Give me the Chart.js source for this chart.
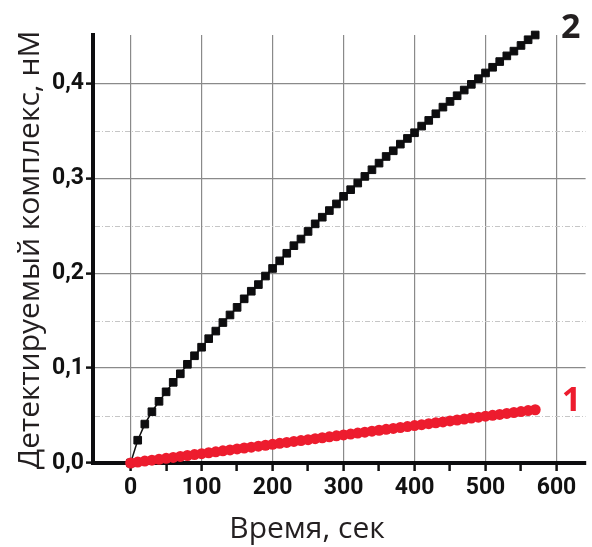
<!DOCTYPE html>
<html>
<head>
<meta charset="utf-8">
<script src="https://cdn.jsdelivr.net/npm/chart.js@4/dist/chart.umd.min.js"></script>
<style>
  html, body { margin: 0; padding: 0; background: #fff; }
  #wrap { width: 592px; height: 547px; }
</style>
</head>
<body>
<div id="wrap"><canvas id="kinetics-chart"></canvas></div>
<script>
// time points, sec
const times = [
  0, 10, 20, 30, 40, 50, 60, 70, 80, 90,
  100, 110, 120, 130, 140, 150, 160, 170, 180, 190,
  200, 210, 220, 230, 240, 250, 260, 270, 280, 290,
  300, 310, 320, 330, 340, 350, 360, 370, 380, 390,
  400, 410, 420, 430, 440, 450, 460, 470, 480, 490,
  500, 510, 520, 530, 540, 550, 560, 570
];

// curve 2 (black squares), nM
const curve2 = [
  0.000, 0.024, 0.041, 0.054, 0.065, 0.075, 0.085, 0.094, 0.104, 0.113,
  0.122, 0.131, 0.139, 0.148, 0.156, 0.164, 0.173, 0.181, 0.188, 0.197,
  0.205, 0.213, 0.221, 0.229, 0.236, 0.244, 0.252, 0.259, 0.266, 0.273,
  0.281, 0.288, 0.295, 0.302, 0.309, 0.316, 0.323, 0.329, 0.336, 0.342,
  0.348, 0.355, 0.361, 0.368, 0.375, 0.381, 0.387, 0.393, 0.399, 0.405,
  0.411, 0.417, 0.423, 0.429, 0.434, 0.440, 0.446, 0.451
];

// curve 1 (red circles), nM
const curve1 = [
  0.0000, 0.0010, 0.0020, 0.0030, 0.0039, 0.0049, 0.0059, 0.0069, 0.0079, 0.0089,
  0.0098, 0.0108, 0.0118, 0.0128, 0.0138, 0.0148, 0.0158, 0.0167, 0.0177, 0.0187,
  0.0197, 0.0207, 0.0217, 0.0227, 0.0236, 0.0246, 0.0256, 0.0266, 0.0276, 0.0286,
  0.0296, 0.0305, 0.0315, 0.0325, 0.0335, 0.0345, 0.0355, 0.0364, 0.0374, 0.0384,
  0.0394, 0.0404, 0.0414, 0.0424, 0.0433, 0.0443, 0.0453, 0.0463, 0.0473, 0.0483,
  0.0493, 0.0502, 0.0512, 0.0522, 0.0532, 0.0542, 0.0552, 0.0561
];

const curveNames = ["1", "2"];
const xTitle = "Время, сек";
const yTitle = "Детектируемый комплекс, нМ";
const xTickValues = [0, 50, 100, 150, 200, 250, 300, 350, 400, 450, 500, 550, 600];
const yTickValues = [0, 0.1, 0.2, 0.3, 0.4];
const minorY = [0.05, 0.15, 0.25, 0.35];

const tickFont = { family: "'Liberation Sans Narrow', Roboto, sans-serif", size: 23, weight: "bold" };
const red = "rgb(237, 28, 46)";

function toPoints(ys) {
  return times.map((t, i) => ({ x: t, y: ys[i] }));
}

// dashed minor lines, axis titles and the curve numbers
const decor = {
  id: "decor",
  beforeDatasetsDraw(chart) {
    const { ctx, chartArea, scales } = chart;
    ctx.save();
    ctx.strokeStyle = "#c6c6c6";
    ctx.lineWidth = 1;
    ctx.setLineDash([5, 2, 1, 2]);
    minorY.forEach((v) => {
      const py = Math.round(scales.y.getPixelForValue(v)) + 0.5;
      ctx.beginPath();
      ctx.moveTo(chartArea.left + 2, py);
      ctx.lineTo(chartArea.right, py);
      ctx.stroke();
    });
    ctx.restore();
  },
  afterDraw(chart) {
    const { ctx, scales } = chart;
    ctx.save();
    ctx.fillStyle = "#231f20";
    ctx.font = "30px 'Open Sans', 'Noto Sans', sans-serif";
    ctx.textAlign = "center";
    ctx.textBaseline = "alphabetic";
    ctx.fillText(xTitle, 307, 538);

    ctx.translate(30, 250);
    ctx.rotate(-Math.PI / 2);
    ctx.textBaseline = "middle";
    ctx.fillText(yTitle, 0, 0);
    ctx.restore();

    ctx.save();
    ctx.font = "bold 34px 'Open Sans', 'Noto Sans', sans-serif";
    ctx.textAlign = "center";
    ctx.textBaseline = "middle";
    ctx.fillStyle = red;
    ctx.fillText(curveNames[0], scales.x.getPixelForValue(621), scales.y.getPixelForValue(0.0645));
    ctx.fillStyle = "#231f20";
    ctx.fillText(curveNames[1], scales.x.getPixelForValue(620), scales.y.getPixelForValue(0.458));
    ctx.restore();
  }
};

new Chart(document.querySelector("#kinetics-chart").getContext("2d"), {
  type: "scatter",
  data: {
    datasets: [
      {
        label: curveNames[0],
        data: toPoints(curve1),
        showLine: true,
        borderColor: red,
        borderWidth: 2,
        backgroundColor: red,
        pointStyle: "circle",
        pointRadius: 5.5,
        pointBorderWidth: 0,
      },
      {
        label: curveNames[1],
        data: toPoints(curve2),
        showLine: true,
        borderColor: "#111",
        borderWidth: 1.5,
        backgroundColor: "#0d0d0f",
        pointStyle: "rect",
        pointRadius: 5.4,
        pointBorderWidth: 1,
        pointBorderColor: "#0d0d0f",
      },
    ],
  },
  options: {
    responsive: true,
    maintainAspectRatio: false,
    animation: false,
    clip: false,
    layout: { padding: { top: 35, right: -7, left: 0, bottom: 0 } },
    plugins: { legend: { display: false }, tooltip: { enabled: false } },
    scales: {
      x: {
        type: "linear",
        min: -53,
        max: 641,
        afterBuildTicks(scale) {
          scale.ticks = xTickValues.map((v) => ({ value: v }));
        },
        afterFit(scale) { scale.height = 84; },
        ticks: {
          autoSkip: false,
          color: "#111",
          font: tickFont,
          padding: 3,
          maxRotation: 0,
          callback: (v) => (v % 100 === 0 ? String(v) : ""),
        },
        grid: {
          color: (c) => (c.tick && c.tick.value % 100 === 0 ? "#8a8a8a" : "rgba(0,0,0,0)"),
          lineWidth: 1.2,
          tickColor: "#111",
          tickLength: 8,
          tickWidth: 2.5,
        },
        border: { display: true, color: "#0d0d0f", width: 4 },
      },
      y: {
        type: "linear",
        min: 0,
        max: 0.451,
        afterBuildTicks(scale) {
          scale.ticks = yTickValues.map((v) => ({ value: v }));
        },
        afterFit(scale) { scale.width = 93; },
        ticks: {
          autoSkip: false,
          color: "#111",
          font: tickFont,
          padding: 2,
          callback: (v) => v.toFixed(1).replace(".", ","),
        },
        grid: {
          color: (c) => (c.tick && c.tick.value > 0 ? "#8a8a8a" : "rgba(0,0,0,0)"),
          lineWidth: 1.2,
          tickColor: "#111",
          tickLength: 7,
          tickWidth: 2.5,
        },
        border: { display: true, color: "#0d0d0f", width: 4 },
      },
    },
  },
  plugins: [decor],
});
</script>
</body>
</html>
